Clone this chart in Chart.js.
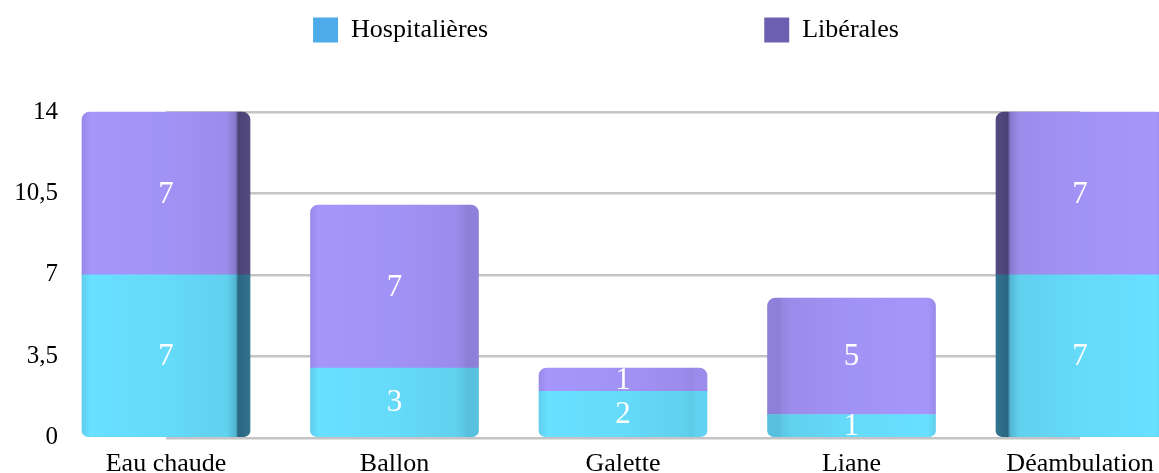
<!DOCTYPE html>
<html>
<head>
<meta charset="utf-8">
<script src="https://cdn.jsdelivr.net/npm/chart.js@4/dist/chart.umd.min.js"></script>
<style>
  html, body { margin: 0; padding: 0; background: #fff; }
  canvas { display: block; }
</style>
</head>
<body>
<canvas id="chart" width="1159" height="473"></canvas>
<script>
// data
const categories = ['Eau chaude', 'Ballon', 'Galette', 'Liane', 'Déambulation'];
const hospitalieres = [7, 3, 2, 1, 7];
const liberales = [7, 7, 1, 5, 7];
const yTicks = [0, 3.5, 7, 10.5, 14];

const seriesNames = ['Hospitalières', 'Libérales'];
const legendColors = ['#4dabe9', '#6c5fb0'];

const FONT = '"Liberation Serif", "Times New Roman", serif';
const BAR_W = 168;
// how much of the 3D side face shows on each bar (+ right, - left)
const sideShade = [0.8, 0.22, 0.1, -0.22, -0.8];

function mix(a, b, t) {
    const c = a.map((v, i) => Math.round(v + (b[i] - v) * t));
    return 'rgb(' + c.join(',') + ')';
}

function barFill(light, dark) {
    return function (ctx) {
        const chart = ctx.chart;
        if (!chart.chartArea || ctx.dataIndex === undefined) return mix(light, dark, 0);
        const cx = chart.scales.x.getPixelForValue(ctx.dataIndex);
        const g = chart.ctx.createLinearGradient(cx - BAR_W / 2, 0, cx + BAR_W / 2, 0);
        const s = sideShade[ctx.dataIndex];
        const a = Math.abs(s);
        let stops = [
            [0, 0.12], [0.05, 0], [0.5, 0.04], [0.86, 0.1],
            [0.915, 0.12 + a * 0.2], [0.93, a], [1, a * 0.9]
        ];
        if (s < 0) stops = stops.map(p => [1 - p[0], p[1]]).reverse();
        stops.forEach(p => g.addColorStop(p[0], mix(light, dark, p[1])));
        return g;
    };
}

const valueLabels = {
    id: 'valueLabels',
    afterDatasetsDraw(chart) {
        const ctx = chart.ctx;
        ctx.save();
        ctx.font = '31px ' + FONT;
        ctx.fillStyle = '#ffffff';
        ctx.textAlign = 'center';
        ctx.textBaseline = 'middle';
        chart.data.datasets.forEach((ds, i) => {
            chart.getDatasetMeta(i).data.forEach((bar, j) => {
                const p = bar.getProps(['x', 'y', 'base'], true);
                ctx.fillText(String(ds.data[j]), p.x, (p.y + p.base) / 2 + 1);
            });
        });
        ctx.restore();
    }
};

// empty boxes that only reserve room around the plot
const spacer = (w, h) => ({
    display: true,
    grid: { display: false, drawTicks: false },
    border: { display: false },
    ticks: { display: false },
    afterFit: axis => {
        if (w !== null) axis.width = w;
        if (h !== null) axis.height = h;
        axis.paddingTop = axis.paddingBottom = axis.paddingLeft = axis.paddingRight = 0;
    }
});

new Chart(document.getElementById('chart'), {
    type: 'bar',
    data: {
        labels: categories,
        datasets: [{
            label: seriesNames[0],
            data: hospitalieres,
            backgroundColor: barFill([104, 224, 255], [28, 72, 98]),
            borderWidth: 0,
            borderSkipped: false,
            borderRadius: { topLeft: 0, topRight: 0, bottomLeft: 6, bottomRight: 6 },
            barThickness: BAR_W,
            clip: false
        }, {
            label: seriesNames[1],
            data: liberales,
            backgroundColor: barFill([166, 150, 252], [52, 45, 82]),
            borderWidth: 0,
            borderSkipped: false,
            borderRadius: { topLeft: 8, topRight: 8, bottomLeft: 0, bottomRight: 0 },
            barThickness: BAR_W,
            clip: false
        }]
    },
    options: {
        responsive: false,
        animation: false,
        devicePixelRatio: 1,
        layout: { padding: { left: 8, right: -45, top: -259, bottom: -18 } },
        plugins: {
            tooltip: { enabled: false },
            legend: {
                position: 'top',
                labels: {
                    boxWidth: 25,
                    boxHeight: 25,
                    padding: 276,
                    color: '#000',
                    font: { family: FONT, size: 26 },
                    generateLabels: chart => chart.data.datasets.map((ds, i) => ({
                        text: ds.label,
                        fillStyle: legendColors[i],
                        strokeStyle: legendColors[i],
                        lineWidth: 0,
                        datasetIndex: i,
                        hidden: false
                    }))
                }
            }
        },
        scales: {
            x: {
                stacked: true,
                offset: false,
                grid: { display: false, drawTicks: false },
                border: { display: false },
                afterFit: axis => { axis.paddingLeft = 0; axis.paddingRight = 0; },
                ticks: {
                    color: '#000',
                    font: { family: FONT, size: 26 },
                    padding: 11,
                    maxRotation: 0,
                    autoSkip: false
                }
            },
            y: {
                stacked: true,
                min: 0,
                max: 14,
                afterBuildTicks: axis => { axis.ticks = yTicks.map(v => ({ value: v })); },
                afterFit: axis => {
                    axis.width = 158;
                    axis.paddingTop = 0;
                    axis.paddingBottom = 0;
                },
                grid: { color: '#c4c4c4', lineWidth: 2.5, drawTicks: false },
                border: { display: false },
                ticks: {
                    color: '#000',
                    font: { family: FONT, size: 25 },
                    padding: 108,
                    callback: v => v.toLocaleString('fr-FR')
                }
            },
            xTop: Object.assign({ type: 'category', position: 'top' }, spacer(null, 59)),
            yRight: Object.assign({ type: 'linear', position: 'right' }, spacer(124, null))
        }
    },
    plugins: [valueLabels]
});
</script>
</body>
</html>
